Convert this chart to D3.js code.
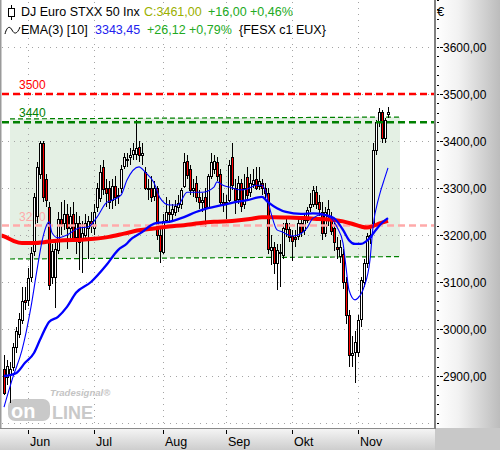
<!DOCTYPE html>
<html><head><meta charset="utf-8">
<script src="https://cdn.jsdelivr.net/npm/d3@7"></script>
<style>body{margin:0;background:#fff}svg{display:block}text{font-family:"Liberation Sans",Arial,sans-serif}</style>
</head><body><svg id="c" width="500" height="450"></svg>
<script>
// ---------------- data ----------------
const firstDay = new Date(2020, 4, 20), lastDay = new Date(2020, 10, 16);
const open = [2915,2898,2905,2920,2960,2990,3020,3062,3062,3110,
3165,3240,3330,3395,3320,3260,3110,3110,3170,3235,
3225,3245,3215,3245,3195,3225,3190,3200,3215,3230,
3215,3260,3280,3345,3300,3300,3275,3305,3285,3300,
3345,3362,3365,3372,3372,3388,3370,3335,3300,3300,
3282,3300,3200,3165,3232,3250,3245,3250,3260,3265,
3305,3358,3340,3295,3310,3280,3270,3280,3260,3325,
3340,3355,3330,3270,3265,3275,3365,3300,3275,3310,
3265,3324,3290,3310,3320,3305,3310,3300,3290,3168,
3175,3140,3160,3158,3225,3212,3198,3195,3198,3225,
3210,3232,3258,3265,3292,3270,3250,3205,3240,3235,
3215,3175,3155,3160,3100,3030,2945,2950,2950,3020,
3100,3140,3195,3226,3381,3440,3462,3406,3456];
const high = [2945,2935,2930,2970,3005,3035,3090,3090,3130,3175,
3290,3355,3400,3400,3330,3270,3180,3185,3250,3270,
3275,3265,3260,3270,3250,3240,3230,3245,3240,3250,
3265,3310,3350,3360,3320,3315,3320,3325,3300,3350,
3375,3375,3385,3395,3445,3400,3395,3345,3320,3325,
3315,3305,3215,3245,3280,3275,3265,3275,3285,3300,
3374,3370,3350,3320,3325,3295,3290,3300,3330,3375,
3370,3365,3340,3290,3285,3360,3396,3320,3325,3320,
3330,3345,3330,3340,3345,3345,3320,3310,3300,3200,
3185,3180,3180,3225,3235,3225,3210,3210,3235,3240,
3245,3260,3290,3305,3305,3285,3270,3260,3274,3250,
3225,3195,3190,3170,3110,3040,2985,2995,3030,3110,
3150,3205,3215,3395,3445,3470,3465,3450,3472];
const low = [2860,2880,2843,2910,2950,2980,3010,3040,3050,3100,
3155,3225,3320,3270,3260,3083,3095,3045,3160,3200,
3210,3170,3190,3185,3160,3125,3120,3190,3150,3205,
3200,3250,3270,3285,3260,3255,3255,3262,3265,3290,
3340,3345,3350,3360,3360,3355,3350,3295,3275,3270,
3272,3190,3140,3160,3225,3225,3230,3240,3250,3255,
3300,3320,3285,3280,3270,3255,3250,3218,3255,3320,
3330,3315,3262,3250,3235,3270,3295,3245,3265,3250,
3255,3275,3280,3300,3295,3295,3285,3275,3160,3136,
3118,3083,3090,3150,3195,3185,3145,3175,3190,3195,
3200,3225,3250,3260,3255,3240,3190,3195,3220,3200,
3165,3150,3140,3085,3010,2919,2920,2885,2940,3005,
3090,3130,3180,3222,3370,3430,3395,3395,3449];
const close = [2865,2922,2915,2962,2995,3022,3060,3058,3108,3162,
3280,3345,3395,3280,3275,3095,3165,3170,3235,3225,
3245,3215,3240,3195,3225,3185,3205,3225,3230,3220,
3250,3300,3335,3298,3290,3270,3305,3282,3282,3340,
3365,3360,3370,3380,3385,3370,3375,3300,3298,3280,
3300,3200,3165,3230,3250,3245,3255,3262,3268,3295,
3355,3328,3295,3300,3280,3270,3275,3258,3325,3355,
3358,3325,3270,3265,3270,3350,3305,3275,3310,3262,
3300,3285,3310,3318,3300,3315,3300,3290,3170,3175,
3142,3168,3163,3215,3212,3195,3188,3190,3225,3205,
3232,3253,3265,3295,3266,3255,3206,3250,3255,3210,
3185,3170,3175,3100,3030,2945,2950,2972,3019,3104,
3140,3198,3200,3381,3440,3462,3406,3445,3461];

// moving-average lines (bar index, value)
const ema10Idx = [0,3,6,9,11,13,15,16,18,21,25,28,31,34,36,39,41,45,47,50,52,55,58,61,63,66,70,71,73,75,79,81,84,86,87,89,91,93,94,96,98,101,103,106,109,111,113,114,115,117,118,120,122,123,125,127,128];
const ema10Val = [2834,2898,2955,3047,3126,3196,3228,3205,3194,3200,3215,3217,3238,3268,3274,3285,3317,3345,3334,3311,3279,3264,3264,3291,3291,3291,3302,3313,3306,3302,3296,3298,3306,3306,3296,3247,3211,3206,3202,3198,3200,3215,3236,3243,3236,3217,3183,3132,3083,3062,3066,3089,3147,3217,3281,3323,3343];
const ema50Idx = [0,4,7,10,12,14,15,18,21,24,29,34,38,41,42,46,49,51,55,60,64,68,73,77,81,86,88,91,94,99,103,107,110,113,115,117,119,122,124,126,128];
const ema50Val = [2900,2906,2928,2949,2977,3004,3015,3026,3047,3077,3100,3135,3168,3182,3189,3206,3221,3226,3228,3238,3249,3257,3264,3270,3274,3281,3270,3257,3249,3245,3246,3243,3236,3211,3189,3181,3181,3194,3211,3226,3236];
const ema200Idx = [-1,0,3,6,10,15,20,26,30,35,40,45,50,55,60,65,70,76,82,86,90,95,100,105,110,113,116,119,121,123,125,128];
const ema200Val = [3199,3197,3188,3183,3183,3186,3189,3190,3192,3196,3203,3210,3214,3218,3221,3225,3228,3230,3234,3238,3238,3237,3236,3234,3232,3229,3224,3218,3216,3219,3224,3230];

const levelValues = [3500, 3440, 3220];
const levelLabels = ["3500", "3440", "3220"];
const levelColors = ["#ff0000", "#008000", "#ffaaaa"];
const channelIdx = [2, 132];
const channelTop = [3447, 3451];
const channelBottom = [3149, 3154];

const yTicks = [2900, 3000, 3100, 3200, 3300, 3400, 3500, 3600];
const monthLabels = ["Jun", "Jul", "Aug", "Sep", "Okt", "Nov"];

// ---------------- chart ----------------
const svg = d3.select("#c");
const plotR = 435, plotB = 428;
const dates = d3.timeDay.range(firstDay, d3.timeDay.offset(lastDay, 1)).filter(d => d.getDay() % 6 !== 0);
const x = d3.scaleLinear().domain([0, dates.length - 1]).range([4, 388]);
const y = d3.scaleLinear().domain([3700, 2789.4]).range([0, plotB]);
const loc = d3.formatLocale({decimal: ",", thousands: ".", grouping: [3], currency: ["", "€"]});
const fmt = loc.format(".2f");

const defs = svg.append("defs");
const gR = defs.append("linearGradient").attr("id", "gr").attr("x1", 0).attr("x2", 1).attr("y1", 0).attr("y2", 0);
gR.append("stop").attr("offset", "0%").attr("stop-color", "#ffffff");
gR.append("stop").attr("offset", "35%").attr("stop-color", "#f2f2f2");
gR.append("stop").attr("offset", "100%").attr("stop-color", "#bcbcbc");
const gB = defs.append("linearGradient").attr("id", "gb").attr("x1", 0).attr("x2", 0).attr("y1", 0).attr("y2", 1);
gB.append("stop").attr("offset", "0%").attr("stop-color", "#f6f6f6");
gB.append("stop").attr("offset", "100%").attr("stop-color", "#cdcdcd");
defs.append("clipPath").attr("id", "plotclip").append("rect").attr("x", 1.5).attr("y", 0).attr("width", plotR - 1.5).attr("height", plotB);

svg.append("rect").attr("width", 500).attr("height", 450).attr("fill", "#fff");
// axis panels
svg.append("rect").attr("x", plotR + 1).attr("y", 0).attr("width", 500 - plotR - 1).attr("height", plotB).attr("fill", "url(#gr)");
svg.append("rect").attr("x", 0).attr("y", plotB).attr("width", plotR).attr("height", 450 - plotB).attr("fill", "url(#gb)");
svg.append("rect").attr("x", plotR).attr("y", plotB).attr("width", 500 - plotR).attr("height", 450 - plotB).attr("fill", "#c8c8c8");

const plot = svg.append("g").attr("clip-path", "url(#plotclip)");

// channel fill
const chan = plot.append("g");
chan.append("path")
  .attr("d", `M${x(channelIdx[0])},${y(channelTop[0])}L${x(channelIdx[1])},${y(channelTop[1])}L${x(channelIdx[1])},${y(channelBottom[1])}L${x(channelIdx[0])},${y(channelBottom[0])}Z`)
  .attr("fill", "#e4f0e4");

// grid
const grid = plot.append("g").attr("stroke", "#a4a4a4").attr("stroke-dasharray", "1,5").attr("stroke-width", 1);
const gridVals = yTicks.concat([2800]);
grid.selectAll("line.h").data(gridVals).join("line")
  .attr("x1", 2).attr("x2", plotR - 1).attr("y1", d => Math.round(y(d)) + 0.5).attr("y2", d => Math.round(y(d)) + 0.5);
const monthIdx = dates.map((d, i) => i).filter(i => i > 0 && dates[i].getMonth() !== dates[i - 1].getMonth());
grid.selectAll("line.v").data(monthIdx).join("line")
  .attr("x1", d => x(d) + 0.5).attr("x2", d => x(d) + 0.5).attr("y1", 2).attr("y2", plotB - 1);

// channel dashed borders
chan.append("line").attr("x1", x(channelIdx[0])).attr("x2", x(channelIdx[1]))
  .attr("y1", y(channelTop[0])).attr("y2", y(channelTop[1]))
  .attr("stroke", "#008000").attr("stroke-width", 1.2).attr("stroke-dasharray", "5,3");
chan.append("line").attr("x1", x(channelIdx[0])).attr("x2", x(channelIdx[1]))
  .attr("y1", y(channelBottom[0])).attr("y2", y(channelBottom[1]))
  .attr("stroke", "#008000").attr("stroke-width", 1.2).attr("stroke-dasharray", "5,3");

// level labels
plot.selectAll("text.lvl").data(levelValues).join("text")
  .attr("x", 19).attr("y", d => y(d) - 5).attr("font-size", 12)
  .attr("fill", (d, i) => levelColors[i]).text((d, i) => levelLabels[i]);

// watermark
const wm = plot.append("g");
wm.append("text").attr("x", 50).attr("y", 396).attr("font-size", 9.5).attr("font-weight", "bold").attr("font-style", "italic").attr("fill", "#c4c4c4").text("Tradesignal®");
wm.append("rect").attr("x", 8).attr("y", 399).attr("width", 42).attr("height", 22).attr("rx", 7).attr("fill", "#c9c9c9");
wm.append("text").attr("x", 11).attr("y", 418).attr("font-size", 20).attr("font-weight", "bold").attr("fill", "#ffffff").text("on");
wm.append("text").attr("x", 52).attr("y", 419).attr("font-size", 18).attr("font-weight", "bold").attr("fill", "#c9c9c9").text("LINE");

// candles
const idx = d3.range(dates.length);
const cg = plot.append("g").attr("shape-rendering", "crispEdges");
cg.selectAll("line.w").data(idx).join("line")
  .attr("x1", i => x(i) + 0.5).attr("x2", i => x(i) + 0.5)
  .attr("y1", i => y(high[i])).attr("y2", i => y(low[i]))
  .attr("stroke", "#000").attr("stroke-width", 1);
cg.selectAll("rect.b").data(idx).join("rect")
  .attr("x", i => x(i) - 0.5)
  .attr("y", i => Math.round(y(Math.max(open[i], close[i]))) + 0.5)
  .attr("width", 2)
  .attr("height", i => Math.max(1, Math.round(Math.abs(y(open[i]) - y(close[i])))))
  .attr("fill", i => close[i] >= open[i] ? "#ffffff" : "#ff0000")
  .attr("stroke", "#000").attr("stroke-width", 1);

// level lines
plot.selectAll("line.lv").data(levelValues).join("line")
  .attr("x1", 2).attr("x2", plotR).attr("y1", d => y(d)).attr("y2", d => y(d))
  .attr("stroke", (d, i) => levelColors[i]).attr("stroke-width", 2.5).attr("stroke-dasharray", "7,4");

// moving averages
const line = d3.line().x(d => x(d[0])).y(d => y(d[1])).curve(d3.curveMonotoneX);
plot.append("path").attr("d", line(d3.zip(ema200Idx, ema200Val))).attr("fill", "none").attr("stroke", "#ff0000").attr("stroke-width", 4);
plot.append("path").attr("d", line(d3.zip(ema50Idx, ema50Val))).attr("fill", "none").attr("stroke", "#0000ff").attr("stroke-width", 2.3);
plot.append("path").attr("d", line(d3.zip(ema10Idx, ema10Val))).attr("fill", "none").attr("stroke", "#0000ff").attr("stroke-width", 1.1);

// frame
svg.append("line").attr("x1", 0.75).attr("x2", 0.75).attr("y1", 0).attr("y2", plotB).attr("stroke", "#9a9a9a").attr("stroke-width", 1.5);
svg.append("line").attr("x1", 0).attr("x2", plotR).attr("y1", plotB + 0.5).attr("y2", plotB + 0.5).attr("stroke", "#8a8a8a").attr("stroke-width", 1);
svg.append("line").attr("x1", plotR).attr("x2", plotR).attr("y1", 0).attr("y2", plotB + 1).attr("stroke", "#808080").attr("stroke-width", 2);

// right axis
const ax = svg.append("g").attr("shape-rendering", "crispEdges");
ax.selectAll("line.mn").data(d3.range(2800, 3701, 20)).join("line")
  .attr("x1", 437).attr("x2", 439).attr("y1", d => Math.round(y(d)) + 0.5).attr("y2", d => Math.round(y(d)) + 0.5)
  .attr("stroke", "#000");
ax.selectAll("line.mj").data(yTicks).join("line")
  .attr("x1", 440).attr("x2", 443).attr("y1", d => Math.round(y(d)) + 0.5).attr("y2", d => Math.round(y(d)) + 0.5)
  .attr("stroke", "#000");
svg.selectAll("text.yt").data(yTicks).join("text")
  .attr("x", 443).attr("y", d => y(d) + 4.5).attr("font-size", 12).attr("fill", "#000").text(d => fmt(d));
svg.append("text").attr("x", 437).attr("y", 16).attr("font-size", 13).text("€");

// bottom axis
svg.selectAll("line.xt").data(monthIdx).join("line")
  .attr("x1", d => x(d) + 0.5).attr("x2", d => x(d) + 0.5).attr("y1", 430).attr("y2", 434)
  .attr("stroke", "#000").attr("shape-rendering", "crispEdges");
svg.selectAll("text.xl").data(monthIdx).join("text")
  .attr("x", d => x(d) + 2).attr("y", 445.5).attr("font-size", 12.5).attr("fill", "#000")
  .text((d, i) => monthLabels[i]);

// legend
const lg = svg.append("g").attr("font-size", 12.5);
lg.append("line").attr("x1", 11.5).attr("x2", 11.5).attr("y1", 5).attr("y2", 20).attr("stroke", "#000");
lg.append("rect").attr("x", 8.5).attr("y", 8.5).attr("width", 6).attr("height", 8).attr("fill", "#fff").attr("stroke", "#000");
lg.append("text").attr("x", 21).attr("y", 16).text("DJ Euro STXX 50 Inx");
lg.append("text").attr("x", 144).attr("y", 16).attr("fill", "#9bb000").text("C:" + fmt(close[close.length - 1]));
lg.append("text").attr("x", 208).attr("y", 16).attr("fill", "#22aa22").text("+16,00 +0,46%");
lg.append("path").attr("d", "M5,34 C7,26 10,26 12,30 S17,35 20,27").attr("fill", "none").attr("stroke", "#000").attr("stroke-width", 1);
lg.append("text").attr("x", 21).attr("y", 34).text("EMA(3) [10]");
lg.append("text").attr("x", 95).attr("y", 34).attr("fill", "#2222ee").text("3343,45");
lg.append("text").attr("x", 147).attr("y", 34).attr("fill", "#22aa22").text("+26,12 +0,79%");
lg.append("text").attr("x", 239).attr("y", 34).text("{FESX c1 EUX}");
</script></body></html>
